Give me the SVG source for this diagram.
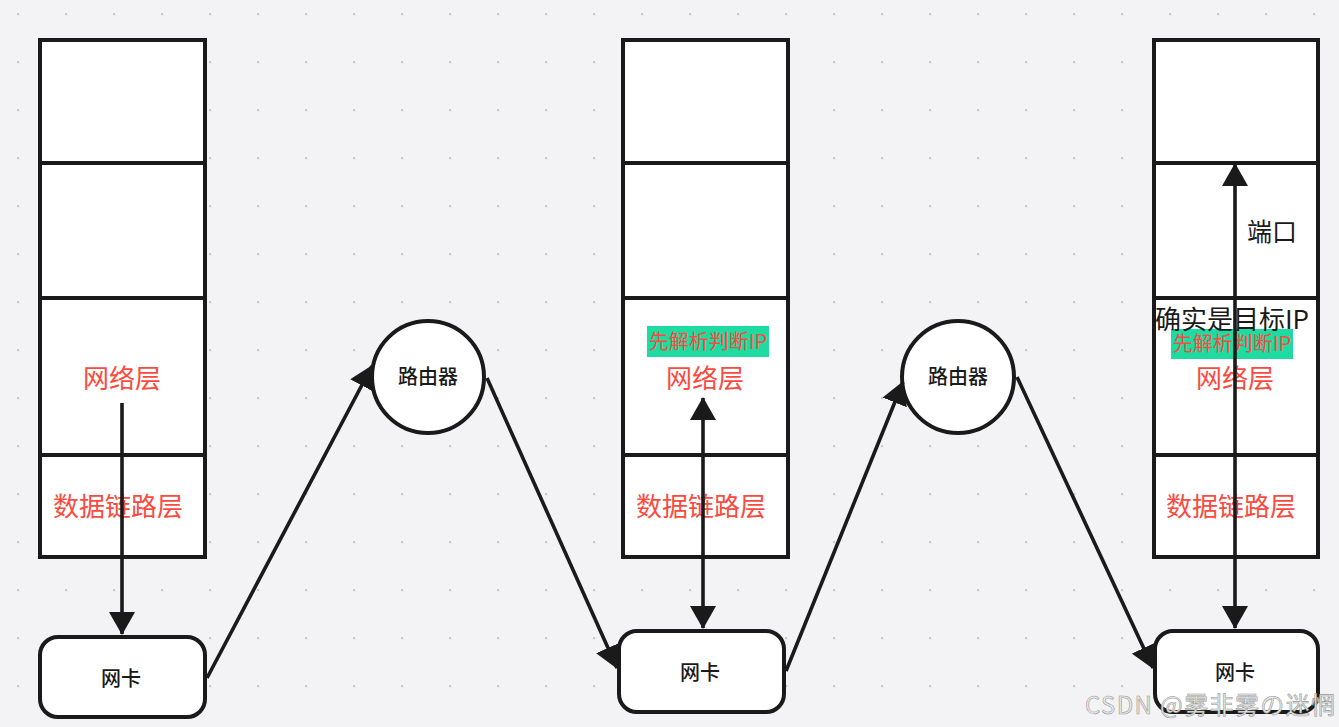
<svg xmlns="http://www.w3.org/2000/svg" width="1339" height="727" viewBox="0 0 1339 727">
<style>
.box{fill:#fff;stroke:#1a1a1a;stroke-width:4}
.div{stroke:#1a1a1a;stroke-width:4}
.red{fill:#f94b40;font-family:"Noto Sans CJK SC",sans-serif;text-anchor:middle;dominant-baseline:central}
.blk{fill:#1a1a1a;font-family:"Noto Sans CJK SC",sans-serif;text-anchor:middle;dominant-baseline:central}
.node{fill:#1a1a1a;font-family:"Noto Sans CJK SC",sans-serif;text-anchor:middle;dominant-baseline:central;font-size:20px;font-weight:500}
.conn{stroke:#1a1a1a;stroke-width:3.6;fill:none}
.hl{fill:#1ddba1}
</style>
<defs>
<pattern id="dots" x="17" y="13" width="48" height="48" patternUnits="userSpaceOnUse">
<rect width="2.2" height="2.2" fill="#c9c9c9"/>
</pattern>
<marker id="arr" markerUnits="userSpaceOnUse" markerWidth="24" markerHeight="26" refX="22" refY="13" orient="auto-start-reverse" viewBox="0 0 24 26">
<path d="M0,0 L23,13 L0,26 z" fill="#1a1a1a"/>
</marker>
</defs>
<rect width="1339" height="727" fill="#f3f3f5"/>
<rect width="1339" height="727" fill="url(#dots)"/>

<g id="stack1">
<rect class="box" x="40" y="40" width="165" height="517"/>
<line class="div" x1="40" y1="163" x2="205" y2="163"/>
<line class="div" x1="40" y1="298" x2="205" y2="298"/>
<line class="div" x1="40" y1="455" x2="205" y2="455"/>
<text class="red" x="122" y="376" font-size="26">网络层</text>
<text class="red" x="118" y="504" font-size="26">数据链路层</text>
</g>

<g id="stack2">
<rect class="box" x="623" y="40" width="165" height="517"/>
<line class="div" x1="623" y1="163" x2="788" y2="163"/>
<line class="div" x1="623" y1="298" x2="788" y2="298"/>
<line class="div" x1="623" y1="455" x2="788" y2="455"/>
<rect class="hl" x="647" y="326" width="122" height="31"/>
<text class="red" x="708" y="340" font-size="20">先解析判断IP</text>
<text class="red" x="705" y="376" font-size="26">网络层</text>
<text class="red" x="701" y="504" font-size="26">数据链路层</text>
</g>

<g id="stack3">
<rect class="box" x="1154" y="40" width="164" height="517"/>
<line class="div" x1="1154" y1="163" x2="1318" y2="163"/>
<line class="div" x1="1154" y1="298" x2="1318" y2="298"/>
<line class="div" x1="1154" y1="455" x2="1318" y2="455"/>
<text class="blk" x="1272" y="230" font-size="25">端口</text>
<rect class="hl" x="1171" y="329" width="122" height="30"/>
<text class="blk" x="1232" y="317" font-size="26">确实是目标IP</text>
<text class="red" x="1232" y="342" font-size="20">先解析判断IP</text>
<text class="red" x="1235" y="376" font-size="26">网络层</text>
<text class="red" x="1231" y="504" font-size="26">数据链路层</text>
</g>

<g id="router1">
<circle class="box" cx="428" cy="377" r="56"/>
<text class="node" x="428" y="375">路由器</text>
</g>
<g id="router2">
<circle class="box" cx="958" cy="377" r="56"/>
<text class="node" x="958" y="375">路由器</text>
</g>

<g id="nic1">
<rect class="box" x="40" y="637" width="165" height="80" rx="18"/>
<text class="node" x="121" y="677">网卡</text>
</g>
<g id="nic2">
<rect class="box" x="619" y="631" width="165" height="81" rx="18"/>
<text class="node" x="700" y="671">网卡</text>
</g>
<g id="nic3">
<rect class="box" x="1155" y="631" width="163" height="81" rx="18"/>
<text class="node" x="1235" y="671">网卡</text>
</g>

<g id="connectors">
<line class="conn" x1="122" y1="403" x2="122" y2="634" marker-end="url(#arr)"/>
<line class="conn" x1="207" y1="678" x2="372" y2="366" marker-end="url(#arr)"/>
<line class="conn" x1="487" y1="378" x2="617" y2="668" marker-end="url(#arr)"/>
<line class="conn" x1="703" y1="398" x2="703" y2="628" marker-start="url(#arr)" marker-end="url(#arr)"/>
<line class="conn" x1="786" y1="671" x2="903" y2="382" marker-end="url(#arr)"/>
<line class="conn" x1="1017" y1="377" x2="1153" y2="668" marker-end="url(#arr)"/>
<line class="conn" x1="1235" y1="164" x2="1235" y2="628" marker-start="url(#arr)" marker-end="url(#arr)"/>
</g>

<text x="1085" y="714" font-family="Noto Sans CJK SC, sans-serif" font-size="24" fill="#e8e8e8" stroke="#9a9a9a" stroke-width="0.6" textLength="250">CSDN @雾非雾の迷惘</text>
</svg>
